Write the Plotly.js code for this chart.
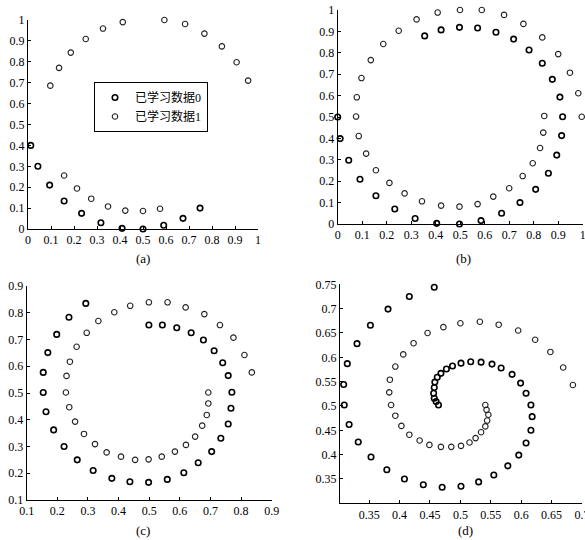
<!DOCTYPE html>
<html><head><meta charset="utf-8">
<script src="https://cdn.plot.ly/plotly-3.0.1.min.js"></script>
<style>body{margin:0;padding:0;background:#fff}#chart{width:585px;height:540px}</style>
</head><body><div id="chart"></div>
<script>
// ---- data ----
const seriesNames = ["已学习数据0", "已学习数据1"];
const panelLabels = ["(a)", "(b)", "(c)", "(d)"];

// (a) learned data (partial)
const aX0 = [0.012,0.043,0.094,0.157,0.233,0.317,0.409,0.5,0.59,0.674,0.748];
const aY0 = [0.4,0.3,0.21,0.134,0.075,0.03,0.003,0,0.018,0.051,0.1];
const aX1 = [0.957,0.907,0.843,0.767,0.683,0.593,0.412,0.326,0.251,0.186,0.135,0.097,0.157,0.213,0.275,0.348,0.423,0.5,0.574];
const aY1 = [0.71,0.798,0.874,0.935,0.981,1.0,0.99,0.959,0.909,0.844,0.771,0.686,0.256,0.194,0.145,0.108,0.088,0.086,0.097];

// (b) two spirals
const bX0 = [0,0.01,0.045,0.091,0.156,0.233,0.316,0.404,0.497,0.585,0.669,0.744,0.808,0.86,0.894,0.914,0.918,0.907,0.876,0.835,0.781,0.718,0.646,0.571,0.497,0.422,0.355];
const bY0 = [0.5,0.399,0.298,0.209,0.132,0.07,0.026,0.003,0,0.016,0.05,0.1,0.162,0.237,0.322,0.413,0.501,0.593,0.676,0.751,0.813,0.864,0.896,0.916,0.919,0.907,0.879];
const bX1 = [0.996,0.982,0.948,0.9,0.835,0.758,0.679,0.588,0.499,0.408,0.322,0.249,0.186,0.135,0.097,0.078,0.075,0.086,0.116,0.156,0.211,0.273,0.344,0.422,0.497,0.571,0.635,0.7,0.755,0.796,0.826,0.839,0.843];
const bY1 = [0.501,0.611,0.707,0.794,0.872,0.935,0.977,1.0,1.0,0.988,0.956,0.903,0.841,0.766,0.682,0.592,0.502,0.411,0.329,0.251,0.192,0.143,0.106,0.086,0.081,0.093,0.128,0.167,0.224,0.284,0.355,0.427,0.505];

// (c) two rings
const cX0 = [0.499,0.543,0.59,0.637,0.677,0.712,0.74,0.758,0.77,0.767,0.758,0.734,0.704,0.66,0.613,0.559,0.498,0.437,0.378,0.317,0.265,0.222,0.188,0.163,0.154,0.154,0.169,0.198,0.238,0.293];
const cY0 = [0.754,0.754,0.744,0.725,0.698,0.658,0.613,0.565,0.503,0.443,0.384,0.331,0.281,0.239,0.202,0.177,0.166,0.168,0.181,0.21,0.25,0.3,0.362,0.43,0.502,0.577,0.651,0.719,0.783,0.835];
const cX1 = [0.835,0.811,0.775,0.731,0.68,0.619,0.56,0.499,0.438,0.386,0.334,0.296,0.263,0.241,0.23,0.228,0.239,0.258,0.287,0.323,0.361,0.408,0.454,0.498,0.541,0.584,0.62,0.65,0.673,0.688,0.693,0.693];
const cY1 = [0.577,0.642,0.707,0.754,0.795,0.82,0.839,0.839,0.826,0.802,0.769,0.725,0.673,0.617,0.564,0.502,0.447,0.393,0.347,0.309,0.278,0.262,0.25,0.252,0.262,0.281,0.306,0.337,0.378,0.418,0.461,0.502];

// (d) spiral
const dX0 = [0.457,0.416,0.381,0.352,0.33,0.314,0.308,0.309,0.317,0.332,0.353,0.379,0.408,0.439,0.47,0.501,0.53,0.555,0.578,0.596,0.608,0.616,0.618,0.616,0.608,0.599,0.585,0.567,0.552,0.534,0.517,0.501,0.487,0.477,0.468,0.462,0.458,0.457,0.456,0.457,0.46,0.464];
const dY0 = [0.744,0.725,0.699,0.666,0.628,0.587,0.544,0.502,0.462,0.426,0.395,0.369,0.35,0.338,0.333,0.335,0.344,0.358,0.377,0.399,0.424,0.45,0.478,0.502,0.526,0.547,0.565,0.578,0.586,0.59,0.591,0.588,0.582,0.576,0.567,0.559,0.549,0.538,0.526,0.516,0.509,0.502];
const dX1 = [0.685,0.669,0.648,0.623,0.595,0.563,0.532,0.5,0.472,0.446,0.423,0.406,0.393,0.384,0.383,0.386,0.393,0.403,0.416,0.433,0.449,0.468,0.485,0.501,0.515,0.525,0.534,0.541,0.544,0.546,0.543,0.541];
const dY1 = [0.543,0.579,0.611,0.636,0.655,0.667,0.673,0.67,0.662,0.65,0.629,0.606,0.581,0.554,0.528,0.502,0.48,0.459,0.441,0.429,0.42,0.416,0.416,0.418,0.425,0.434,0.446,0.458,0.47,0.482,0.492,0.502];

// tick values
const ticksAB = [0,0.1,0.2,0.3,0.4,0.5,0.6,0.7,0.8,0.9,1];
const labelsAB = ["0","0.1","0.2","0.3","0.4","0.5","0.6","0.7","0.8","0.9","1"];
const ticksC = [0.1,0.2,0.3,0.4,0.5,0.6,0.7,0.8,0.9];
const labelsC = ["0.1","0.2","0.3","0.4","0.5","0.6","0.7","0.8","0.9"];
const ticksDx = [0.35,0.4,0.45,0.5,0.55,0.6,0.65,0.7];
const labelsDx = ["0.35","0.4","0.45","0.5","0.55","0.6","0.65","0.7"];
const ticksDy = [0.35,0.4,0.45,0.5,0.55,0.6,0.65,0.7,0.75];
const labelsDy = ["0.35","0.4","0.45","0.5","0.55","0.6","0.65","0.7","0.75"];

// ---- drawing ----
const W = 585, H = 540;
const serif = "Liberation Serif, DejaVu Serif, serif";
function mk(x, y, s, xa, ya, show) {
  return {
    type: "scatter", mode: "markers", x: x, y: y, xaxis: xa, yaxis: ya,
    name: seriesNames[s], showlegend: show, cliponaxis: false,
    marker: { symbol: "circle-open", size: 5.5, color: s === 0 ? "#000" : "#222",
              line: { width: s === 0 ? 1.6 : 1.1, color: s === 0 ? "#000" : "#222" } }
  };
}
const traces = [
  mk(aX0, aY0, 0, "x", "y", true), mk(aX1, aY1, 1, "x", "y", true),
  mk(bX0, bY0, 0, "x2", "y2", false), mk(bX1, bY1, 1, "x2", "y2", false),
  mk(cX0, cY0, 0, "x3", "y3", false), mk(cX1, cY1, 1, "x3", "y3", false),
  mk(dX0, dY0, 0, "x4", "y4", false), mk(dX1, dY1, 1, "x4", "y4", false)
];
function px(a, b) { return [a / W, b / W]; }
function py(top, bottom) { return [1 - bottom / H, 1 - top / H]; }
function ax(range, dom, tv, tt, anchor) {
  return {
    range: range, domain: dom, anchor: anchor, tickvals: tv, ticktext: tt,
    showgrid: false, zeroline: false, showline: true, linecolor: "#000", linewidth: 1,
    ticks: "inside", ticklen: 3, tickcolor: "#000", mirror: false,
    ticklabeloverflow: "allow",
    tickfont: { family: serif, size: 12, color: "#000" }, fixedrange: true
  };
}
const layout = {
  width: W, height: H, margin: { l: 0, r: 0, t: 0, b: 0 },
  paper_bgcolor: "#fff", plot_bgcolor: "rgba(0,0,0,0)",
  xaxis:  ax([0, 1], px(28, 258), ticksAB, labelsAB, "y"),
  yaxis:  ax([0, 1], py(20, 229), ticksAB, labelsAB, "x"),
  xaxis2: ax([0, 1], px(337.7, 582.7), ticksAB, labelsAB, "y2"),
  yaxis2: ax([0, 1], py(10, 224), ticksAB, labelsAB, "x2"),
  xaxis3: ax([0.1, 0.9], px(26.7, 271.7), ticksC, labelsC, "y3"),
  yaxis3: ax([0.1, 0.9], py(286, 500), ticksC, labelsC, "x3"),
  xaxis4: ax([0.302, 0.7], px(340, 582), ticksDx, labelsDx, "y4"),
  yaxis4: ax([0.3, 0.75], py(284.3, 503.3), ticksDy, labelsDy, "x4"),
  showlegend: true,
  legend: {
    x: 94 / W, y: 1 - 82 / H, xanchor: "left", yanchor: "top",
    bgcolor: "#fff", bordercolor: "#000", borderwidth: 1,
    font: { family: "Liberation Serif, Noto Sans CJK SC", size: 12, color: "#000" },
    itemwidth: 30, tracegroupgap: 0
  },
  annotations: [
    [143, 258], [463, 258], [143, 530], [465, 530]
  ].map((p, i) => ({
    text: panelLabels[i], x: p[0] / W, y: 1 - p[1] / H, xref: "paper", yref: "paper",
    showarrow: false, xanchor: "center", yanchor: "middle",
    font: { family: serif, size: 13, color: "#000" }
  }))
};
Plotly.newPlot("chart", traces, layout, { displayModeBar: false, staticPlot: true });
</script>
</body></html>
